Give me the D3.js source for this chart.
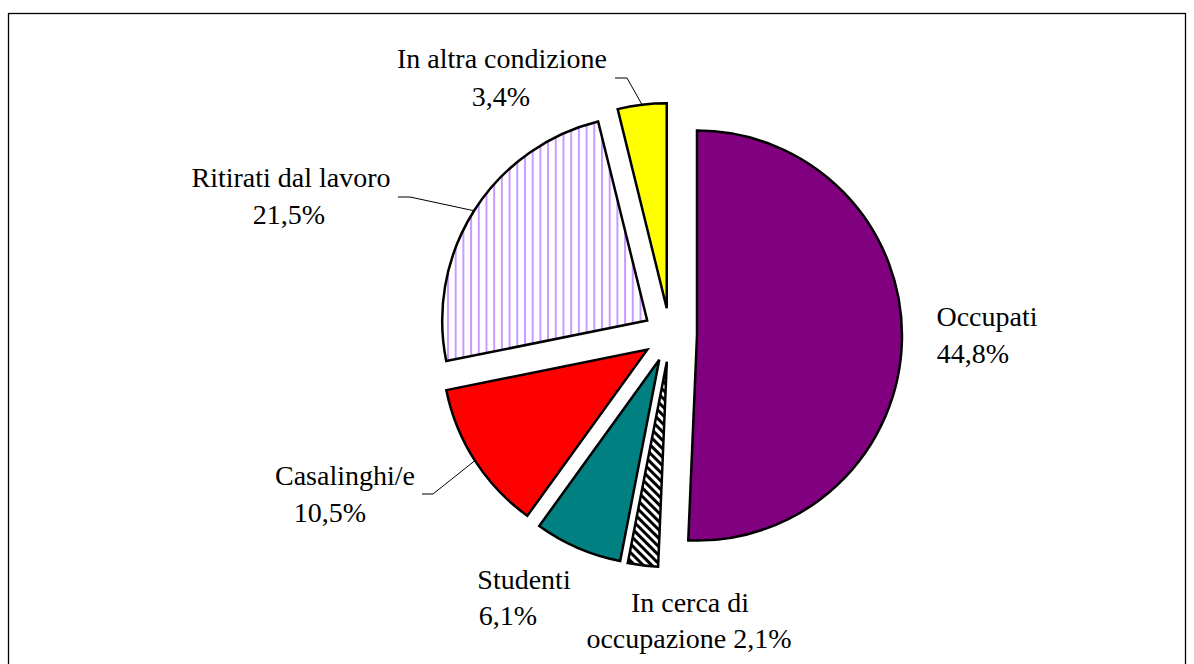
<!DOCTYPE html>
<html>
<head>
<meta charset="utf-8">
<script src="https://cdn.jsdelivr.net/npm/d3@7"></script>
<style>
  html, body { margin: 0; padding: 0; background: #fff; }
  svg { display: block; }
</style>
</head>
<body>
<svg id="chart" width="1194" height="664"></svg>
<script>
// ---- data ----
const categories = ["Occupati", "In cerca di occupazione", "Studenti", "Casalinghi/e", "Ritirati dal lavoro", "In altra condizione"];
const values = [44.8, 2.1, 6.1, 10.5, 21.5, 3.4];
const labelLines = [
  ["Occupati", "44,8%"],
  ["In cerca di", "occupazione 2,1%"],
  ["Studenti", "6,1%"],
  ["Casalinghi/e", "10,5%"],
  ["Ritirati dal lavoro", "21,5%"],
  ["In altra condizione", "3,4%"]
];

// ---- presentation ----
const fills = ["#800080", "url(#hatchDiag)", "#008080", "#ff0000", "url(#stripeVert)", "#ffff00"];
// label line centres [x, baseline]
const labelLayout = [
  [[987, 326], [973, 363]],
  [[690, 612], [689, 648]],
  [[524, 589], [508, 625]],
  [[345, 485], [330, 522]],
  [[291, 187], [289, 224]],
  [[502, 68], [501, 106]]
];
// leader lines: [knee, end] (null = none)
const leaderLayout = [null, null, null, [[433, 494], [422, 494]], [[410, 197], [398, 197]], [[627, 78], [615, 78]]];

const cx = 670, cy = 335, R = 205, explode = 27;

const svg = d3.select("#chart");

// frame
svg.append("rect").attr("x", 8.5).attr("y", 13.5).attr("width", 1177).attr("height", 700)
  .attr("fill", "none").attr("stroke", "#000").attr("stroke-width", 1.3);

const defs = svg.append("defs");
const pv = defs.append("pattern").attr("id", "stripeVert").attr("patternUnits", "userSpaceOnUse")
  .attr("width", 7.7).attr("height", 10);
pv.append("rect").attr("width", 7.7).attr("height", 10).attr("fill", "#fff");
pv.append("rect").attr("x", 0).attr("width", 2).attr("height", 10).attr("fill", "#cc99ff");

const pd = defs.append("pattern").attr("id", "hatchDiag").attr("patternUnits", "userSpaceOnUse")
  .attr("width", 6).attr("height", 6).attr("patternTransform", "rotate(-45)");
pd.append("rect").attr("width", 6).attr("height", 6).attr("fill", "#fff");
pd.append("rect").attr("width", 3).attr("height", 6).attr("fill", "#000");

const pie = d3.pie().sort(null).value(d => d)(values);
const arc = d3.arc().innerRadius(0).outerRadius(R);

const g = svg.append("g").attr("transform", `translate(${cx},${cy})`);

pie.forEach((p, i) => {
  const mid = (p.startAngle + p.endAngle) / 2;
  const ox = Math.sin(mid) * explode, oy = -Math.cos(mid) * explode;
  g.append("path")
    .attr("d", arc(p))
    .attr("transform", `translate(${ox},${oy})`)
    .attr("fill", fills[i])
    .attr("stroke", "#000")
    .attr("stroke-width", 2.5)
    .attr("stroke-linejoin", "miter");

  const lead = leaderLayout[i];
  if (lead) {
    const px = cx + ox + Math.sin(mid) * R, py = cy + oy - Math.cos(mid) * R;
    svg.append("polyline")
      .attr("points", [[px, py], lead[0], lead[1]].map(q => q.join(",")).join(" "))
      .attr("fill", "none").attr("stroke", "#000").attr("stroke-width", 1);
  }

  labelLines[i].forEach((t, j) => {
    svg.append("text")
      .attr("x", labelLayout[i][j][0])
      .attr("y", labelLayout[i][j][1])
      .attr("text-anchor", "middle")
      .attr("font-family", "'Liberation Serif', 'Times New Roman', serif")
      .attr("font-size", 28)
      .attr("fill", "#000")
      .text(t);
  });
});
</script>
</body>
</html>
